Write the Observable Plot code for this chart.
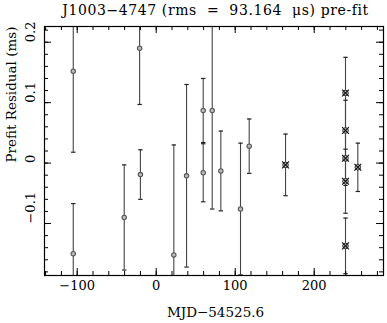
<!DOCTYPE html>
<html><head><meta charset="utf-8">
<script src="https://cdn.jsdelivr.net/npm/d3@7"></script>
<script src="https://cdn.jsdelivr.net/npm/@observablehq/plot@0.6"></script>
<style>
body{margin:0;background:#fff;}
#title{font-family:"DejaVu Serif";font-size:14px;letter-spacing:0.6px;height:20px;line-height:20px;text-align:center;white-space:pre;width:343px;padding-left:44px;color:#000;}
#chart svg{display:block;}
</style></head><body>
<div id="title">J1003−4747 (rms  =  93.164  μs) pre-fit</div>
<div id="chart"></div>
<script>
const mjd   = [-105, -105, -40.5, -21, -20, 22.3, 38.4, 59.5, 59.5, 70.9, 81.8, 106.7, 117.7, 163.7, 239.6, 239.6, 239.6, 239.6, 239.6, 255.2];
const resid = [0.152, -0.150, -0.090, 0.190, -0.019, -0.152, -0.021, 0.087, -0.016, 0.087, -0.013, -0.076, 0.028, -0.003, 0.116, 0.054, 0.008, -0.030, -0.137, -0.007];
const err   = [0.134, 0.083, 0.087, 0.093, 0.041, 0.182, 0.151, 0.053, 0.048, 0.163, 0.066, 0.109, 0.045, 0.051, 0.059, 0.050, 0.045, 0.053, 0.046, 0.040];
const kind  = ["o","o","o","o","o","o","o","o","o","o","o","o","o","x","x","x","x","x","x","x"];

const xMajor = [-100, 0, 100, 200];
const xMajorLabels = ["−100", "0", "100", "200"];
const yMajor = [-0.1, 0, 0.1, 0.2];
const yMajorLabels = ["−0.1", "0", "0.1", "0.2"];
const xMinor = d3.range(-140, 290, 20);
const yMinor = d3.range(-18, 23, 2).map(d => d / 100);

const titleText = "J1003−4747 (rms  =  93.164  μs) pre-fit";
const xLabel = "MJD−54525.6";
const yLabel = "Prefit Residual (ms)";

const data = mjd.map((x, i) => ({x, r: resid[i], e: err[i], k: kind[i]}));
const caps = data.flatMap(d => [{x: d.x, y: d.r - d.e}, {x: d.x, y: d.r + d.e}]);

const W = 387, H = 303;
const mL = 44, mR = 4, mT = 6, mB = 48;
const iW = W - mL - mR, iH = H - mT - mB;
const font = "DejaVu Serif";
const ink = "#444";

const capSymbol = {draw(ctx, size) { const w = Math.sqrt(size / Math.PI); ctx.moveTo(-w, 0); ctx.lineTo(w, 0); }};

const chart = Plot.plot({
  width: W, height: H,
  marginLeft: mL, marginRight: mR, marginTop: mT, marginBottom: mB,
  x: {domain: [-141.4, 287.7], axis: null},
  y: {domain: [-0.186, 0.226], axis: null},
  style: {fontFamily: font, background: "#fff", color: "#000"},
  marks: [
    Plot.ruleX(data, {x: "x", y1: d => d.r - d.e, y2: d => d.r + d.e, stroke: ink, strokeWidth: 1.1, clip: true}),
    Plot.dot(caps, {x: "x", y: "y", symbol: capSymbol, r: 2.2, stroke: "#222", strokeWidth: 1.2, clip: true}),
    Plot.dot(data.filter(d => d.k === "o"), {x: "x", y: "r", r: 2.2, stroke: "#555", strokeWidth: 1.1, fill: "#bbb"}),
    Plot.dot(data.filter(d => d.k === "x"), {x: "x", y: "r", r: 2.8, stroke: "#333", strokeWidth: 1, fill: "#bbb"}),
    Plot.dot(data.filter(d => d.k === "x"), {x: "x", y: "r", r: 3.2, symbol: "times", stroke: "#111", strokeWidth: 1.1}),
    Plot.frame({stroke: "#000", strokeWidth: 1.2}),
    Plot.tickX(xMajor, {x: d => d, insetTop: iH - 7, stroke: "#000"}),
    Plot.tickX(xMinor, {x: d => d, insetTop: iH - 4, stroke: "#000"}),
    Plot.tickX(xMajor, {x: d => d, insetBottom: iH - 7, stroke: "#000"}),
    Plot.tickX(xMinor, {x: d => d, insetBottom: iH - 4, stroke: "#000"}),
    Plot.tickY(yMajor, {y: d => d, insetRight: iW - 7, stroke: "#000"}),
    Plot.tickY(yMinor, {y: d => d, insetRight: iW - 4, stroke: "#000"}),
    Plot.tickY(yMajor, {y: d => d, insetLeft: iW - 7, stroke: "#000"}),
    Plot.tickY(yMinor, {y: d => d, insetLeft: iW - 4, stroke: "#000"}),
    Plot.text(xMajor, {x: d => d, text: (d, i) => xMajorLabels[i], frameAnchor: "bottom", dy: 14, fontSize: 13, fill: "#000"}),
    Plot.text(yMajor, {y: d => d, text: (d, i) => yMajorLabels[i], frameAnchor: "left", dx: -14, rotate: -90, fontSize: 13, fill: "#000"}),
    Plot.text([xLabel], {text: d => d, frameAnchor: "bottom", dx: 1.5, dy: 41, fontSize: 13.5, fill: "#000"}),
    Plot.text([yLabel], {text: d => d, frameAnchor: "left", dx: -33, dy: 11.5, rotate: -90, fontSize: 13.5, fill: "#000"})
  ]
});
document.getElementById("title").textContent = titleText;
document.getElementById("chart").appendChild(chart);
</script>
</body></html>
